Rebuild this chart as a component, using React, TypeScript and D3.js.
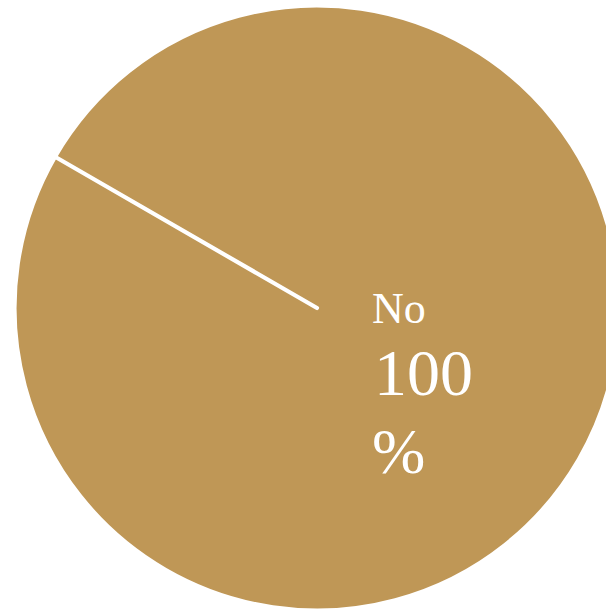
import * as d3 from "d3";

const WIDTH = 606;
const HEIGHT = 610;
const CENTER = { x: 317, y: 308 };
const RADIUS = 302.5;

const categories = ["Yes", "No"];
const shares = [0, 100];
const colors = ["#4f81bd", "#bf9756"];

interface Slice {
  name: string;
  value: number;
  color: string;
}

const slices: Slice[] = categories.map((name, i) => ({
  name,
  value: shares[i],
  color: colors[i],
}));

export default function App() {
  const pie = d3
    .pie<Slice>()
    .sort(null)
    .value((d) => d.value)
    .startAngle(-Math.PI / 3)
    .endAngle(-Math.PI / 3 + 2 * Math.PI);
  const arcs = pie(slices);
  const arc = d3.arc<d3.PieArcDatum<Slice>>().innerRadius(0).outerRadius(RADIUS);

  // big slices first so the empty slice's white edge stays on top
  const drawOrder = [...arcs].sort((a, b) => b.value - a.value);

  // label for the dominant slice, left-aligned to the right of centre
  const main = drawOrder[0];
  const labelX = CENTER.x + 55;

  return (
    <svg
      width={WIDTH}
      height={HEIGHT}
      viewBox={`0 0 ${WIDTH} ${HEIGHT}`}
      style={{ position: "absolute", left: 0, top: 0, display: "block" }}
    >
      <g transform={`translate(${CENTER.x},${CENTER.y})`}>
        {drawOrder.map((a, i) => (
          <path
            key={i}
            d={arc(a) ?? ""}
            fill={a.data.color}
            stroke="#ffffff"
            strokeWidth={4.2}
            strokeLinejoin="round"
            strokeLinecap="round"
          />
        ))}
      </g>
      <g fill="#ffffff" fontFamily="'Liberation Serif', 'Times New Roman', serif">
        <text x={labelX} y={CENTER.y + 15} fontSize={44}>
          {main.data.name}
        </text>
        <text x={labelX + 2} y={CENTER.y + 87} fontSize={66}>
          {d3.format("d")(main.data.value)}
        </text>
        <text x={labelX} y={CENTER.y + 165} fontSize={64}>
          %
        </text>
      </g>
    </svg>
  );
}
